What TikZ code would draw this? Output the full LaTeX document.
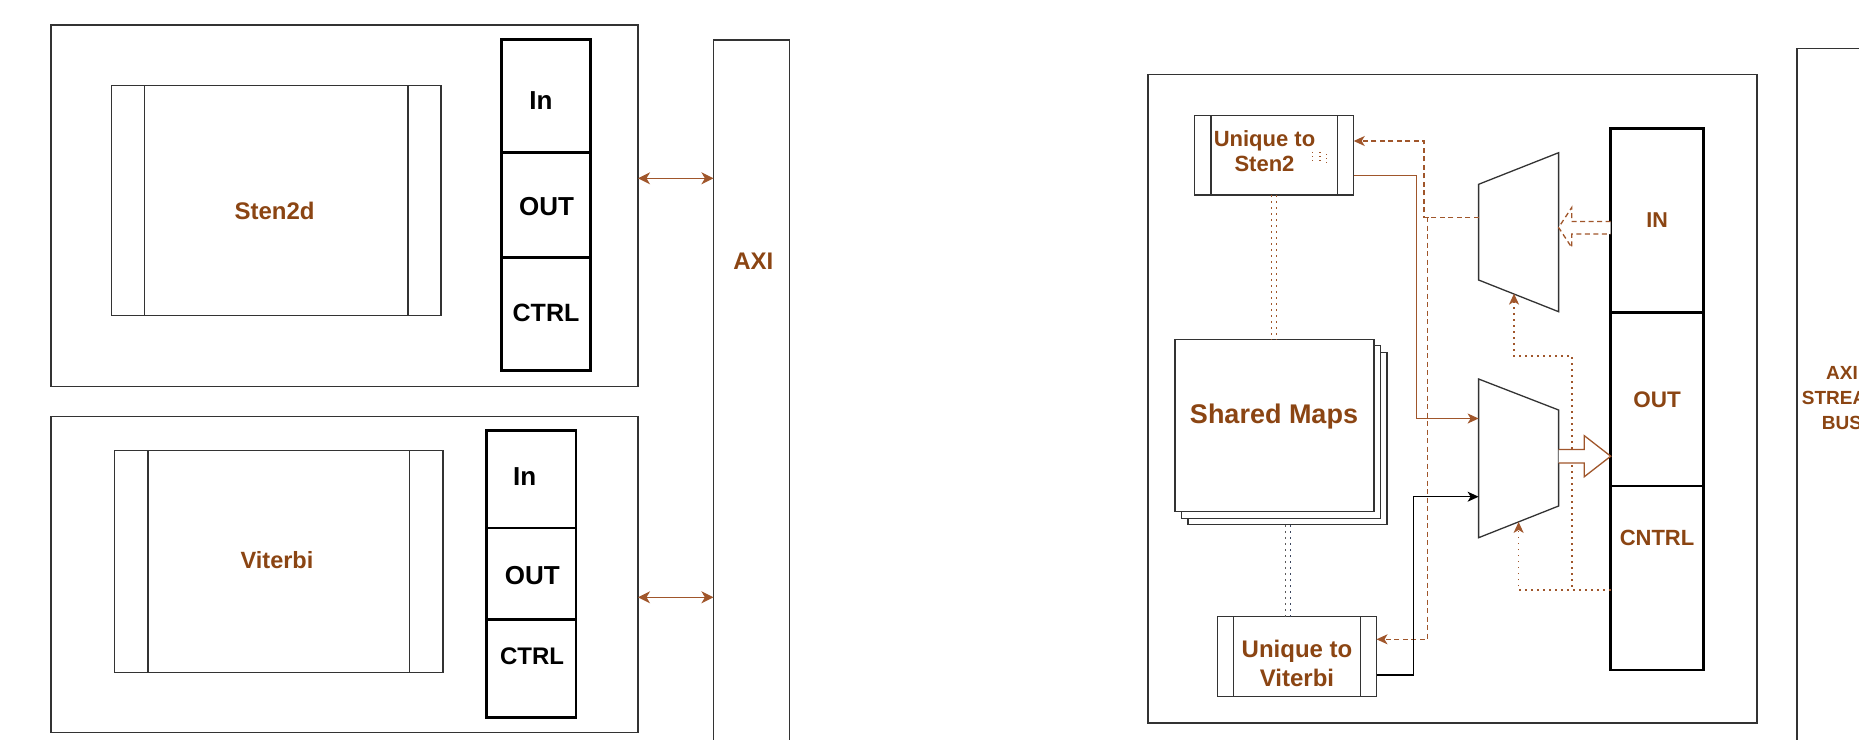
\documentclass[tikz,border=0pt]{standalone}
\usepackage{fontspec}
\setmainfont{Liberation Sans}
\usetikzlibrary{arrows.meta,calc}

\definecolor{ink}{HTML}{333333}
\definecolor{rust}{HTML}{8B4513}
\definecolor{rustln}{HTML}{A0562B}
\definecolor{slate}{HTML}{3A4660}

\tikzset{
  frame/.style={draw=ink, line width=1.3pt, fill=white, inner sep=0pt, outer sep=0pt},
  portcell/.style={draw=black, line width=2.6pt, fill=white, inner sep=0pt, outer sep=0pt},
  lbl/.style={font=\bfseries\fontsize{#1}{#1}\selectfont, inner sep=0pt, text depth=0pt, align=center},
  lbltwo/.style 2 args={font=\bfseries\fontsize{#1}{#2}\selectfont, inner sep=0pt, align=center},
  link/.style={draw=rustln, line width=1.3pt},
  dashlink/.style={link, dash pattern=on 5pt off 3.5pt},
  dotlink/.style={link, line width=1.5pt, dash pattern=on 1.5pt off 4.5pt},
  headend/.style={-{Stealth[length=11pt,width=10pt,inset=3pt]}},
  busheads/.style={{Stealth[length=12pt,width=12pt,inset=3.5pt]}-{Stealth[length=12pt,width=12pt,inset=3.5pt]}},
  bar/.style={draw=ink, line width=1.3pt}
}

\begin{document}
\begin{tikzpicture}[x=1pt,y=-1pt]
\useasboundingbox (0,0) rectangle (1859,739);
\clip (0,0) rectangle (1859,739);

% ---------- left: two accelerator units on the AXI bus ----------
\node[frame, minimum width=587pt, minimum height=361.7pt] (stenunit) at (344.5,205.9) {};
\node[frame, minimum width=329.6pt, minimum height=230pt] (stencore) at (276.2,200.7) {};
\draw[bar] ([xshift=33pt]stencore.north west) -- ([xshift=33pt]stencore.south west)
           ([xshift=-33pt]stencore.north east) -- ([xshift=-33pt]stencore.south east);
\node[lbl=24, text=rust] (stenname) at (274.6,211) {Sten2d};

\node[portcell, minimum width=88.9pt, minimum height=113pt]   (stenin)   at (546.05,95.8) {};
\node[portcell, minimum width=88.9pt, minimum height=105.4pt] (stenout)  at (546.05,205) {};
\node[portcell, minimum width=88.9pt, minimum height=113pt]   (stenctrl) at (546.05,314.2) {};
\node[lbl=26] (steninl)   at (541,100.5) {In};
\node[lbl=26] (stenoutl)  at (546.5,206.7) {OUT};
\node[lbl=25] (stenctrll) at (546,312.3) {CTRL};

\node[frame, minimum width=587pt, minimum height=315.6pt] (vitunit) at (344.5,574.5) {};
\node[frame, minimum width=328.5pt, minimum height=222pt] (vitcore) at (278.75,561.7) {};
\draw[bar] ([xshift=33.5pt]vitcore.north west) -- ([xshift=33.5pt]vitcore.south west)
           ([xshift=-33.5pt]vitcore.north east) -- ([xshift=-33.5pt]vitcore.south east);
\node[lbl=23.5, text=rust] (vitname) at (277,560) {Viterbi};

\node[portcell, minimum width=89.4pt, minimum height=97.3pt] (vitin)   at (531.1,479.35) {};
\node[portcell, minimum width=89.4pt, minimum height=91.3pt] (vitout)  at (531.1,573.65) {};
\node[portcell, minimum width=89.4pt, minimum height=98pt]   (vitctrl) at (531.1,668.3) {};
\node[lbl=26] (vitinl)   at (524.6,476.7) {In};
\node[lbl=26] (vitoutl)  at (532.4,575) {OUT};
\node[lbl=24] (vitctrll) at (532,656) {CTRL};

\node[frame, anchor=north west, minimum width=76.3pt, minimum height=760pt] (axi) at (713.4,40) {};
\node[lbl=24, text=rust] (axiname) at (753.3,261.7) {AXI};

\coordinate (busA) at (675,178.3);
\coordinate (busB) at (675,597.3);
\draw[link, line width=1.5pt, busheads] (stenunit.east |- busA) -- (axi.west |- busA);
\draw[link, line width=1.5pt, busheads] (vitunit.east |- busB) -- (axi.west |- busB);

% ---------- right: merged accelerator ----------
\node[frame, minimum width=609pt, minimum height=648.5pt] (accel) at (1452.5,398.75) {};

% shared map storage (stacked pages)
\node[frame, minimum width=199pt, minimum height=172.4pt] (mapsC) at (1287.5,438.5) {};
\node[frame, minimum width=199pt, minimum height=172.4pt] (mapsB) at (1281,432) {};
\node[frame, minimum width=199pt, minimum height=172.4pt] (maps)  at (1274.5,425.5) {};
\node[lbl=27, text=rust] (mapsl) at (1274,413.3) {Shared Maps};

% kernel-specific logic
\node[frame, minimum width=159pt, minimum height=79.5pt] (usten) at (1274.2,155.25) {};
\draw[bar] ([xshift=16.3pt]usten.north west) -- ([xshift=16.3pt]usten.south west)
           ([xshift=-16.3pt]usten.north east) -- ([xshift=-16.3pt]usten.south east);
\node[lbltwo={22}{25}, text=rust] (ustenl) at (1264.5,151.3) {Unique to\\Sten2};

\node[frame, minimum width=159pt, minimum height=80pt] (uvit) at (1297,656.7) {};
\draw[bar] ([xshift=16.1pt]uvit.north west) -- ([xshift=16.1pt]uvit.south west)
           ([xshift=-16.1pt]uvit.north east) -- ([xshift=-16.1pt]uvit.south east);
\node[lbltwo={24}{29}, text=rust] (uvitl) at (1297,663.8) {Unique to\\Viterbi};

% small dotted marks inside the Sten2 block
\draw[link, line width=1.2pt, dash pattern=on 1.2pt off 2.8pt]
  (1312.5,152) -- (1312.5,161) (1320,152) -- (1320,161) (1326.5,154) -- (1326.5,163);

% multiplexers
\coordinate (m1a) at (1478.6,184.3);
\coordinate (m1b) at (1558.6,152.7);
\coordinate (m1c) at (1558.6,311.7);
\coordinate (m1d) at (1478.6,280);
\draw[ink, line width=1.3pt, fill=white] (m1a) -- (m1b) -- (m1c) -- (m1d) -- cycle;
\coordinate (m2a) at (1478.6,379);
\coordinate (m2b) at (1558.6,410);
\coordinate (m2c) at (1558.6,506);
\coordinate (m2d) at (1478.6,537.7);
\draw[ink, line width=1.3pt, fill=white] (m2a) -- (m2b) -- (m2c) -- (m2d) -- cycle;

\coordinate (m1sel) at (1478.6,217.3);
\coordinate (m1ctl) at (1514,293.6);
\coordinate (m1out) at (1558.6,227.5);
\coordinate (m2inA) at (1478.6,418.5);
\coordinate (m2inB) at (1478.6,496.7);
\coordinate (m2ctl) at (1518.6,521.9);
\coordinate (m2out) at (1558.6,456.2);

% stream ports
\node[portcell, minimum width=93pt, minimum height=184pt]   (inp)   at (1657.2,220.3) {};
\node[portcell, minimum width=93pt, minimum height=173.7pt] (outp)  at (1657.2,399.15) {};
\node[portcell, minimum width=93pt, minimum height=184pt]   (ctrlp) at (1657.2,578) {};
\node[lbl=21.5, text=rust] (inpl)   at (1657,220) {IN};
\node[lbl=22.5, text=rust] (outpl)  at (1657,400) {OUT};
\node[lbl=22, text=rust]   (ctrlpl) at (1657,538.3) {CNTRL};

% stream bus
\node[frame, anchor=north west, minimum width=90pt, minimum height=760pt] (stream) at (1797,48.6) {};
\node[lbltwo={19}{25}, text=rust] (streaml) at (1842,398.5) {AXI\\STREAM\\BUS};

% ---------- connectors ----------
\draw[dotlink] ($(usten.south)+(-2.5,0)$) -- ($(usten.south |- maps.north)+(-2.5,0)$);
\draw[dotlink] ($(usten.south)+(2.5,0)$) -- ($(usten.south |- maps.north)+(2.5,0)$);
\draw[dotlink, draw=gray!70!black] ($(uvit.north)+(-11.6,0)$) -- ($(uvit.north |- mapsC.south)+(-11.6,0)$);
\draw[dotlink, draw=slate] ($(uvit.north)+(-6.3,0)$) -- ($(uvit.north |- mapsC.south)+(-6.3,0)$);

\coordinate (selUp) at (1424,141);
\coordinate (selDn) at (1427.5,639.3);
\draw[dashlink, headend] (m1sel) -| (selUp) -- (usten.east |- selUp);
\draw[dashlink, headend] (m1sel) -| (selDn) -- (uvit.east |- selDn);

\coordinate (shA) at (1416.8,175.7);
\coordinate (shB) at (1413.2,675);
\draw[link, headend] (usten.east |- shA) -- (shA) |- (m2inA);
\draw[draw=black, line width=1.3pt, headend] (uvit.east |- shB) -- (shB) |- (m2inB);

\coordinate (ctlY) at (1572,590);
\coordinate (ctlTop) at (1572,356);
\draw[dotlink, headend] (ctrlp.west |- ctlY) -- (ctlY) -- (ctlTop) -| (m1ctl);
\draw[dotlink, headend] (ctrlp.west |- ctlY) -| (m2ctl);

% wide data arrows
\coordinate (inTailA) at (1610.7,221.5);
\coordinate (inTailB) at (1610.7,234);
\draw[dashlink, fill=white] (inTailA) -- (1571.7,221.5) -- (1571.7,207.5) -- (m1out)
  -- (1571.7,247.5) -- (1571.7,234) -- (inTailB);
\coordinate (outTip) at (1610.7,456.2);
\draw[link, fill=white] (1558.6,449.5) -- (1584.3,449.5) -- (1584.3,435.7) -- (outp.west |- outTip)
  -- (1584.3,476.7) -- (1584.3,462.9) -- (1558.6,462.9);
\end{tikzpicture}
\end{document}
